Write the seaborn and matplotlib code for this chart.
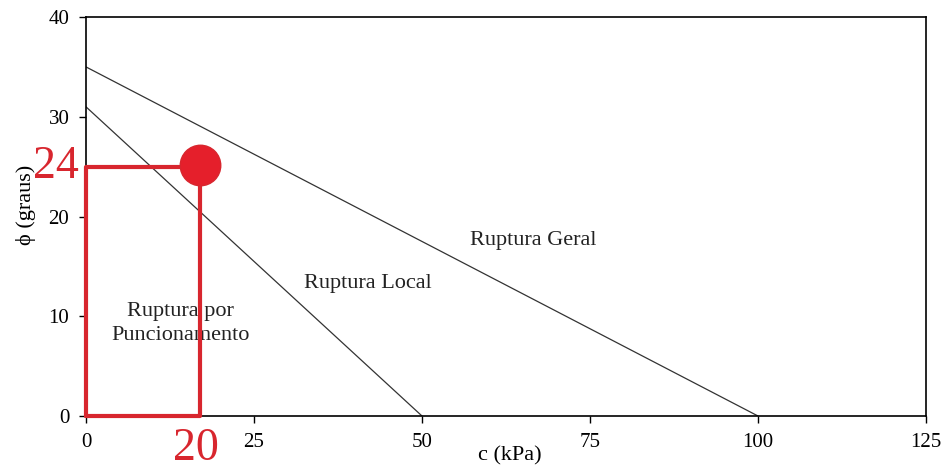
import matplotlib
matplotlib.use("Agg")
import matplotlib.pyplot as plt
import seaborn as sns
import pandas as pd

# Data
geral_c = [0, 100]
geral_phi = [35, 0]
local_c = [0, 50]
local_phi = [31, 0]
point_c = [17]
point_phi = [25.2]
rect_c = [0, 0, 17, 17, 0]
rect_phi = [0, 25, 25, 0, 0]
x_ticks = [0, 25, 50, 75, 100, 125]
y_ticks = [0, 10, 20, 30, 40]
region_labels = ["Ruptura Geral", "Ruptura Local", "Ruptura por\nPuncionamento"]
region_pos = [(66.5, 17.6), (42, 13.3), (14, 9.3)]
marker_labels = ["24", "20"]

sns.set_theme(style="white")
plt.rcParams['font.family'] = ['Liberation Serif', 'DejaVu Serif']
plt.rcParams['mathtext.fontset'] = 'stix'

fig = plt.figure(figsize=(9.47, 4.71), dpi=100)
ax = fig.add_axes([0.0908, 0.1168, 0.887, 0.847])

red = "#d8262e"

sns.lineplot(x=geral_c, y=geral_phi, ax=ax, color="#333333", linewidth=0.9)
sns.lineplot(x=local_c, y=local_phi, ax=ax, color="#333333", linewidth=0.9)
rect_df = pd.DataFrame({"c": rect_c, "phi": rect_phi})
sns.lineplot(data=rect_df, x="c", y="phi", sort=False, estimator=None, ax=ax,
             color=red, linewidth=3, clip_on=False, zorder=5)
sns.scatterplot(x=point_c, y=point_phi, ax=ax, s=850, color="#e51f2b",
                edgecolor="#d8262e", linewidth=1, zorder=6, clip_on=False)

ax.set_xlim(0, 125)
ax.set_ylim(0, 40)
ax.set_xticks(x_ticks)
ax.set_yticks(y_ticks)
ax.tick_params(axis='both', which='both', direction='out', length=5, width=1,
               labelsize=15, colors='black', left=True, bottom=True, pad=7)
for s in ax.spines.values():
    s.set_color('black')
    s.set_linewidth(1.2)

ax.set_xlabel("c (kPa)", fontsize=16, color='black')
ax.set_ylabel("ϕ (graus)", fontsize=16, color='black')
ax.xaxis.set_label_coords(0.505, -0.075)
ax.yaxis.set_label_coords(-0.06, 0.53)

for lab, (xx, yy) in zip(region_labels, region_pos):
    ax.text(xx, yy, lab, fontsize=16, ha='center', va='center', color='#222222',
            linespacing=1.35)

ax.text(-1.0, 25, marker_labels[0], fontsize=33, color=red,
        ha='right', va='center', clip_on=False)
ax.text(point_c[0] - 0.7, -1.2, marker_labels[1], fontsize=33, color=red,
        ha='center', va='top', clip_on=False)

fig.savefig("out.png", dpi=100)
